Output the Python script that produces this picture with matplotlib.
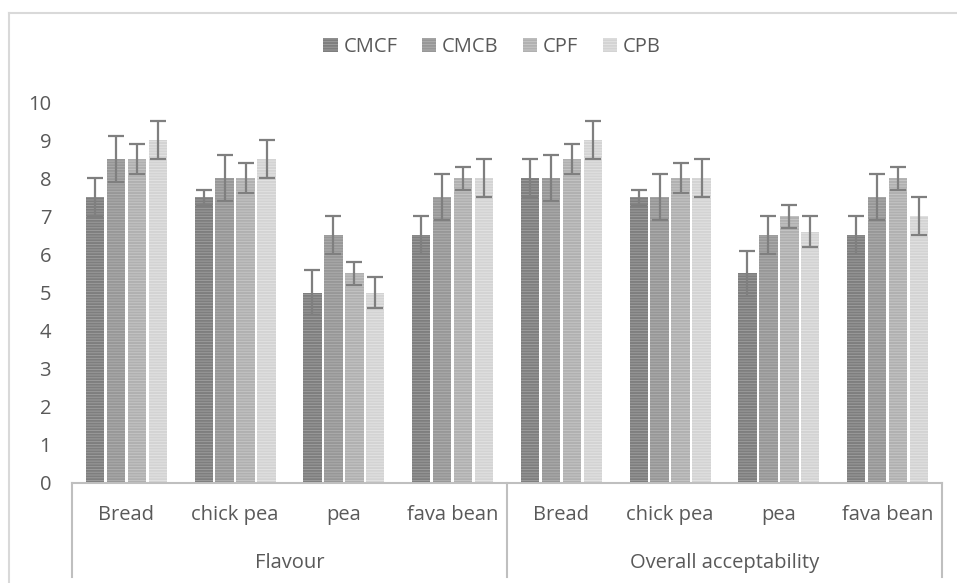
import numpy as np
import matplotlib.pyplot as plt
from matplotlib.lines import Line2D
from matplotlib.patches import Patch

plt.rcParams['font.family'] = ['Open Sans', 'DejaVu Sans']
plt.rcParams['hatch.linewidth'] = 1.4

groups = ["Flavour", "Overall acceptability"]
foods = ["Bread", "chick pea", "pea", "fava bean"]
series = ["CMCF", "CMCB", "CPF", "CPB"]

# values: flavour then overall, per series
cmcf = [7.5, 7.5, 5.0, 6.5, 8.0, 7.5, 5.5, 6.5]
cmcb = [8.5, 8.0, 6.5, 7.5, 8.0, 7.5, 6.5, 7.5]
cpf = [8.5, 8.0, 5.5, 8.0, 8.5, 8.0, 7.0, 8.0]
cpb = [9.0, 8.5, 5.0, 8.0, 9.0, 8.0, 6.6, 7.0]

cmcf_err = [0.5, 0.2, 0.6, 0.5, 0.5, 0.2, 0.6, 0.5]
cmcb_err = [0.6, 0.6, 0.5, 0.6, 0.6, 0.6, 0.5, 0.6]
cpf_err = [0.4, 0.4, 0.3, 0.3, 0.4, 0.4, 0.3, 0.3]
cpb_err = [0.5, 0.5, 0.4, 0.5, 0.5, 0.5, 0.4, 0.5]

values = [cmcf, cmcb, cpf, cpb]
errors = [cmcf_err, cmcb_err, cpf_err, cpb_err]
faces = ["#a0a0a0", "#b0b0b0", "#c8c8c8", "#e4e4e4"]
stripes = ["#7e7e7e", "#979797", "#b0b0b0", "#d3d3d3"]

txt = "#595959"
axcol = "#bfbfbf"
fs = 14.5

fig = plt.figure(figsize=(9.57, 5.83), dpi=100)
ax = fig.add_axes([72 / 957, 1 - 483 / 583, 870 / 957, 381 / 583])

x = np.arange(8)
step = 0.193
width = 0.168
for i in range(4):
    ax.bar(x + (i - 1.5) * step, values[i], width, color=faces[i],
           edgecolor=stripes[i], linewidth=0, hatch="------", zorder=2)
    ax.errorbar(x + (i - 1.5) * step, values[i], yerr=errors[i], fmt="none",
                ecolor="#7f7f7f", elinewidth=1.6, capsize=6, capthick=1.6, zorder=3)

ax.set_xlim(-0.5, 7.5)
ax.set_ylim(0, 10)
ax.set_yticks(range(0, 11))
ax.tick_params(axis="y", length=0, pad=15, labelsize=fs, labelcolor=txt)
ax.set_xticks([])
for s in ["top", "right", "left"]:
    ax.spines[s].set_visible(False)
ax.spines["bottom"].set_color(axcol)
ax.spines["bottom"].set_linewidth(1.5)

# category axis lines and labels
h = 94 / 381
for xa in [0, 0.5, 1]:
    ax.add_line(Line2D([xa, xa], [0, -h], transform=ax.transAxes, color=axcol,
                       lw=1.5, clip_on=False))
for j in range(8):
    ax.text(x[j], -32 / 381 * 10, foods[j % 4], ha="center", va="center",
            fontsize=fs, color=txt)
for g in range(2):
    ax.text(0.25 + 0.5 * g, -80 / 381, groups[g], transform=ax.transAxes,
            ha="center", va="center", fontsize=fs, color=txt)

handles = [Patch(facecolor=faces[i], edgecolor=stripes[i], hatch="------", linewidth=0)
           for i in range(4)]
fig.legend(handles, series, loc="center", bbox_to_anchor=(492 / 957, 1 - 47 / 583),
           ncol=4, frameon=False, fontsize=fs, labelcolor=txt, handlelength=0.7,
           handleheight=0.7, handletextpad=0.3, columnspacing=1.2)

# outer chart border
fig.add_artist(Line2D([9 / 957, 9 / 957], [0, 1 - 13 / 583], color="#d9d9d9", lw=1.5))
fig.add_artist(Line2D([9 / 957, 1], [1 - 13 / 583, 1 - 13 / 583], color="#d9d9d9", lw=1.5))

fig.savefig("out.png", dpi=100)
